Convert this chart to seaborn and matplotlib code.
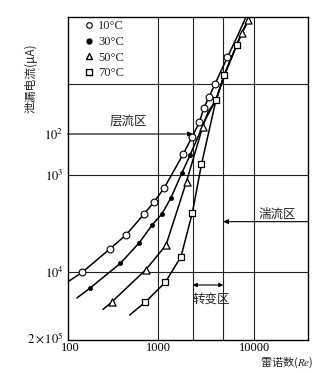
import numpy as np
import matplotlib
matplotlib.use("Agg")
import matplotlib.pyplot as plt
import matplotlib.transforms as mtransforms
from matplotlib.lines import Line2D
import seaborn as sns

# ---------------- data ----------------
# 10 °C (open circles)
re_10 = [145.5, 291.6, 444, 696, 897, 1147, 1821, 2244, 2674, 2992, 3375, 3896, 5258]
cur_10 = [9.93e-5, 1.72e-4, 2.42e-4, 3.94e-4, 5.24e-4, 7.25e-4, 1.63e-3, 2.44e-3,
          3.44e-3, 4.90e-3, 6.29e-3, 8.55e-3, 1.62e-2]
re_10_line = [104] + re_10 + [6604, 8195]
cur_10_line = [8.08e-5] + cur_10 + [2.60e-2, 4.18e-2]

# 30 °C (filled dots)
re_30 = [174.7, 383.4, 617.6, 858.7, 1085, 1346, 1753, 2139]
cur_30 = [6.77e-5, 1.23e-4, 2.0e-4, 3.06e-4, 3.92e-4, 5.72e-4, 1.03e-3, 1.59e-3]
re_30_line = [127] + re_30 + [2591, 3065, 3990, 4870, 6557, 7391, 8660, 9021]
cur_30_line = [5.41e-5] + cur_30 + [2.44e-3, 3.65e-3, 5.86e-3, 1.058e-2, 2.15e-2,
                                    2.84e-2, 3.89e-2, 4.18e-2]

# 50 °C (open triangles)
re_50 = [309, 732, 1203, 1967, 2887, 7391, 8660]
cur_50 = [4.94e-5, 1.06e-4, 1.89e-4, 8.51e-4, 3.06e-3, 2.84e-2, 3.89e-2]
re_50_line = [246, 309, 732, 1203, 1967, 2887, 3294, 3990, 4870, 6557, 7391, 8660, 9021]
cur_50_line = [4.12e-5, 4.94e-5, 1.06e-4, 1.89e-4, 8.51e-4, 3.06e-3, 4.41e-3, 5.86e-3,
               1.058e-2, 2.15e-2, 2.84e-2, 3.89e-2, 4.18e-2]

# 70 °C (open squares)
re_70 = [722.8, 1183, 1724, 2261, 2818, 3990, 4870, 6557]
cur_70 = [4.92e-5, 7.83e-5, 1.44e-4, 4.04e-4, 1.28e-3, 5.86e-3, 1.058e-2, 2.15e-2]
re_70_line = [484] + re_70 + [7391, 8660, 9021]
cur_70_line = [3.61e-5] + cur_70 + [2.84e-2, 3.89e-2, 4.18e-2]

legend_labels = ["10°C", "30°C", "50°C", "70°C"]

x_ticks = [100, 1000, 10000]
x_tick_labels = ["100", "1000", "10000"]
x_grid = [1000, 2282, 4755, 10000]
y_ticks = [2e-5, 1e-4, 1e-3, 2.62e-3]
y_tick_labels = [r"$2\times10^5$", r"$10^4$", r"$10^3$", r"$10^2$"]
y_grid = [1e-4, 1e-3, 8.55e-3]

# ---------------- style ----------------
sns.set_theme(style="white")
plt.rcParams["font.family"] = ["Liberation Serif", "Noto Sans CJK SC", "DejaVu Sans"]
plt.rcParams["mathtext.fontset"] = "stix"
CJK = ["Noto Sans CJK SC", "DejaVu Sans"]

fig = plt.figure(figsize=(3.23, 3.73), dpi=100)
ax = fig.add_axes([67.5 / 323, 33 / 373, 240.8 / 323, 323 / 373])


def fwd(x):
    l = np.log10(np.maximum(np.asarray(x, dtype=float), 1e-300))
    return np.where(l < 3, (l - 2) * 90.8, 90.8 + (l - 3) * 96.0)


def inv(u):
    u = np.asarray(u, dtype=float)
    return np.where(u < 90.8, 10 ** (2 + u / 90.8), 10 ** (3 + (u - 90.8) / 96.0))


ax.set_xscale("function", functions=(fwd, inv))
ax.set_yscale("log")
ax.set_xlim(100, 36517)
ax.set_ylim(2e-5, 4.176e-2)

# grid
for gx in x_grid:
    ax.axvline(gx, color="#222222", lw=0.8, zorder=1)
for gy in y_grid:
    ax.axhline(gy, color="#222222", lw=0.8, zorder=1)

# curves
for rx, cy in [(re_10_line, cur_10_line), (re_30_line, cur_30_line),
               (re_50_line, cur_50_line), (re_70_line, cur_70_line)]:
    sns.lineplot(x=rx, y=cy, sort=False, estimator=None, color="black", lw=1.1,
                 ax=ax, zorder=2)

# markers
sns.scatterplot(x=re_10, y=cur_10, marker="o", s=24, facecolor="white",
                edgecolor="black", linewidth=0.8, ax=ax, zorder=3)
sns.scatterplot(x=re_30, y=cur_30, marker="o", s=9, color="black",
                edgecolor="black", linewidth=0.5, ax=ax, zorder=3)
sns.scatterplot(x=re_50, y=cur_50, marker="^", s=26, facecolor="white",
                edgecolor="black", linewidth=0.9, ax=ax, zorder=3)
sns.scatterplot(x=re_70, y=cur_70, marker="s", s=20, facecolor="white",
                edgecolor="black", linewidth=0.9, ax=ax, zorder=3)

# ticks
ax.set_xticks(x_ticks)
ax.set_xticklabels(x_tick_labels)
ax.xaxis.set_minor_locator(matplotlib.ticker.NullLocator())
ax.set_yticks(y_ticks)
ax.set_yticklabels(y_tick_labels)
ax.yaxis.set_minor_locator(matplotlib.ticker.NullLocator())
ax.tick_params(axis="both", length=0, labelsize=9, colors="black")
ax.tick_params(axis="x", pad=1.5)
ax.tick_params(axis="y", pad=3)
for s in ax.spines.values():
    s.set_color("black")
    s.set_linewidth(1.0)

# nudge the two corner labels apart (as in the reference)
fig.canvas.draw()
xl0 = ax.get_xticklabels()[0]
xl0.set_transform(xl0.get_transform() + mtransforms.ScaledTranslation(3 / 100, 0, fig.dpi_scale_trans))
yl0 = ax.get_yticklabels()[0]
yl0.set_transform(yl0.get_transform() + mtransforms.ScaledTranslation(0, 3 / 100, fig.dpi_scale_trans))

# labels
ax.set_ylabel("泄漏电流(μA)", family=CJK, fontsize=8.5)
ax.yaxis.set_label_coords(-0.125, 0.81)
ax.set_xlabel("")
ax.text(1.02, -0.072, "雷诺数($Re$)", transform=ax.transAxes, ha="right",
        va="center", fontsize=8, family=CJK)

# annotations
ax.annotate("", xy=(2282, 2.62e-3), xytext=(100, 2.62e-3),
            arrowprops=dict(arrowstyle="-|>", color="black", lw=0.8,
                            mutation_scale=7, shrinkA=0, shrinkB=0))
ax.text(464, 3.0e-3, "层流区", ha="center", va="bottom", fontsize=9, family=CJK)

ax.annotate("", xy=(4755, 3.29e-4), xytext=(36517, 3.29e-4),
            arrowprops=dict(arrowstyle="-|>", color="black", lw=0.8,
                            mutation_scale=7, shrinkA=0, shrinkB=0))
ax.text(17240, 3.9e-4, "湍流区", ha="center", va="center", fontsize=9, family=CJK)

ax.annotate("", xy=(2282, 7.35e-5), xytext=(4755, 7.35e-5),
            arrowprops=dict(arrowstyle="<|-|>", color="black", lw=0.8,
                            mutation_scale=6, shrinkA=0, shrinkB=0))
ax.text(3581, 5.3e-5, "转变区", ha="center", va="center", fontsize=9, family=CJK)

# legend
handles = [
    Line2D([], [], ls="none", marker="o", ms=4, mfc="white", mec="black", mew=0.8),
    Line2D([], [], ls="none", marker="o", ms=3.5, mfc="black", mec="black"),
    Line2D([], [], ls="none", marker="^", ms=4.5, mfc="white", mec="black", mew=1.0),
    Line2D([], [], ls="none", marker="s", ms=4, mfc="white", mec="black", mew=1.0),
]
ax.legend(handles, legend_labels, loc="upper left", bbox_to_anchor=(0.07, 0.99),
          frameon=False, fontsize=9, handlelength=0.8, handletextpad=0.3,
          labelspacing=0.3, borderpad=0, borderaxespad=0)

fig.savefig("out.png", dpi=100)
